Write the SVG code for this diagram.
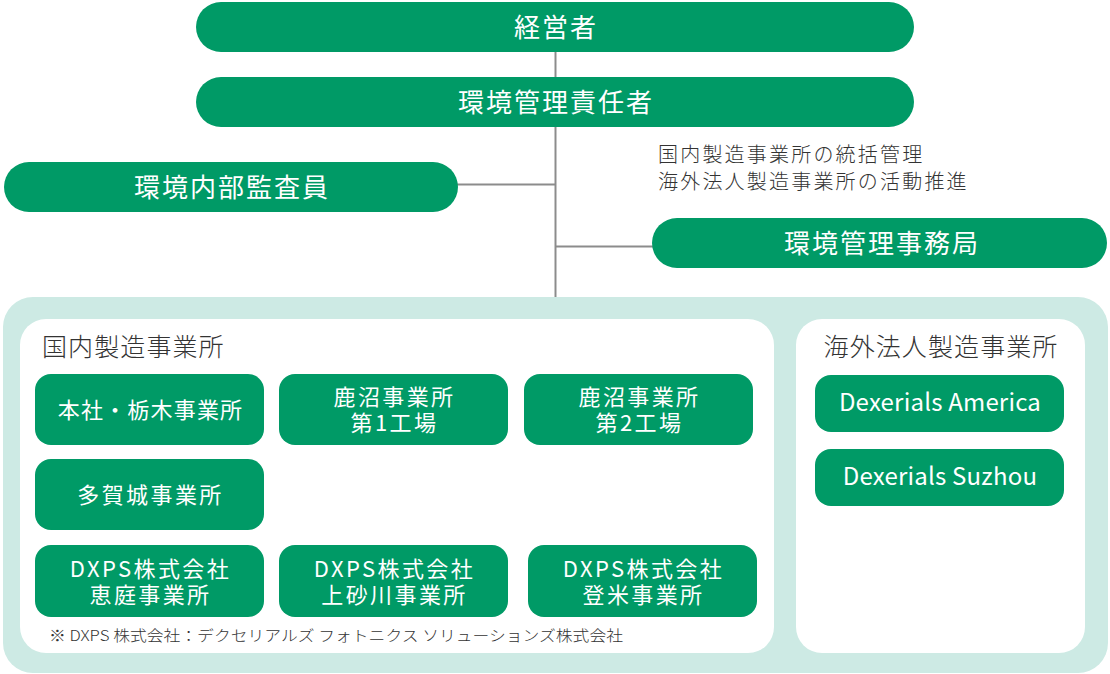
<svg xmlns="http://www.w3.org/2000/svg" width="1110" height="674" viewBox="0 0 1110 674">
<style>
text{font-family:"Noto Sans CJK JP","Noto Sans",sans-serif}
.g{fill:#009a66}
.w{fill:#ffffff}
.top{font-size:26px;letter-spacing:2px;fill:#fff;text-anchor:middle}
.nd{font-size:22px;letter-spacing:2.4px;fill:#fff;text-anchor:middle}
.lat{font-size:24px;letter-spacing:0.2px;fill:#fff;text-anchor:middle}
.lbl{font-size:25px;letter-spacing:1.1px;fill:#333;font-weight:300}
.cm{font-size:20px;letter-spacing:2.2px;fill:#333;font-weight:300}
.fn{font-size:15px;fill:#333;font-weight:300}
.ln{stroke:#8c8c8c;stroke-width:2;fill:none}
</style>
<rect x="3" y="297" width="1105" height="376" rx="30" fill="#cdeae4"/>
<g id="connectors">
<line class="ln" x1="555.5" y1="52" x2="555.5" y2="297"/>
<line class="ln" x1="456" y1="184.5" x2="555.5" y2="184.5"/>
<line class="ln" x1="555.5" y1="246.5" x2="655" y2="246.5"/>
</g>
<g id="n-keieisha"><rect class="g" x="196" y="2" width="718" height="50" rx="25"/><text class="top" x="556" y="37">経営者</text></g>
<g id="n-sekinin"><rect class="g" x="196" y="77" width="718" height="50" rx="25"/><text class="top" x="556" y="112">環境管理責任者</text></g>
<g id="n-kansa"><rect class="g" x="4" y="162" width="454" height="50" rx="25"/><text class="top" x="232" y="197">環境内部監査員</text></g>
<g id="n-note"><text class="cm" x="658" y="161.5">国内製造事業所の統括管理<tspan x="658" dy="27">海外法人製造事業所の活動推進</tspan></text></g>
<g id="n-jimukyoku"><rect class="g" x="652" y="218" width="455" height="50" rx="25"/><text class="top" x="882" y="253">環境管理事務局</text></g>
<g id="p-domestic">
<rect class="w" x="20" y="319" width="754" height="334" rx="26"/>
<text class="lbl" x="42" y="356">国内製造事業所</text>
</g>
<g id="p-overseas">
<rect class="w" x="796" y="319" width="289" height="334" rx="26"/>
<text class="lbl" x="941" y="356" text-anchor="middle">海外法人製造事業所</text>
</g>
<g id="n-honsha"><rect class="g" x="35" y="374" width="229" height="71" rx="16"/><text class="nd" x="150.5" y="418" style="letter-spacing:1.2px">本社・栃木事業所</text></g>
<g id="n-kanuma1"><rect class="g" x="279" y="374" width="229" height="71" rx="16"/><text class="nd" x="394.5" y="405">鹿沼事業所<tspan x="394.5" dy="26">第1工場</tspan></text></g>
<g id="n-kanuma2"><rect class="g" x="524" y="374" width="229" height="71" rx="16"/><text class="nd" x="639.5" y="405">鹿沼事業所<tspan x="639.5" dy="26">第2工場</tspan></text></g>
<g id="n-tagajo"><rect class="g" x="35" y="459" width="229" height="71" rx="16"/><text class="nd" x="150.5" y="503">多賀城事業所</text></g>
<g id="n-eniwa"><rect class="g" x="35" y="545" width="229" height="72" rx="16"/><text class="nd" x="150.5" y="577">DXPS株式会社<tspan x="150.5" dy="26">恵庭事業所</tspan></text></g>
<g id="n-kamisunagawa"><rect class="g" x="279" y="545" width="229" height="72" rx="16"/><text class="nd" x="394.5" y="577">DXPS株式会社<tspan x="394.5" dy="26">上砂川事業所</tspan></text></g>
<g id="n-tome"><rect class="g" x="528" y="545" width="229" height="72" rx="16"/><text class="nd" x="643.5" y="577">DXPS株式会社<tspan x="643.5" dy="26">登米事業所</tspan></text></g>
<text class="fn" x="49" y="641" textLength="574" lengthAdjust="spacingAndGlyphs">※ DXPS 株式会社：デクセリアルズ フォトニクス ソリューションズ株式会社</text>
<g id="n-america"><rect class="g" x="815" y="375" width="249" height="57" rx="16"/><text class="lat" x="940" y="411">Dexerials America</text></g>
<g id="n-suzhou"><rect class="g" x="815" y="449" width="249" height="57" rx="16"/><text class="lat" x="940" y="485">Dexerials Suzhou</text></g>
</svg>
